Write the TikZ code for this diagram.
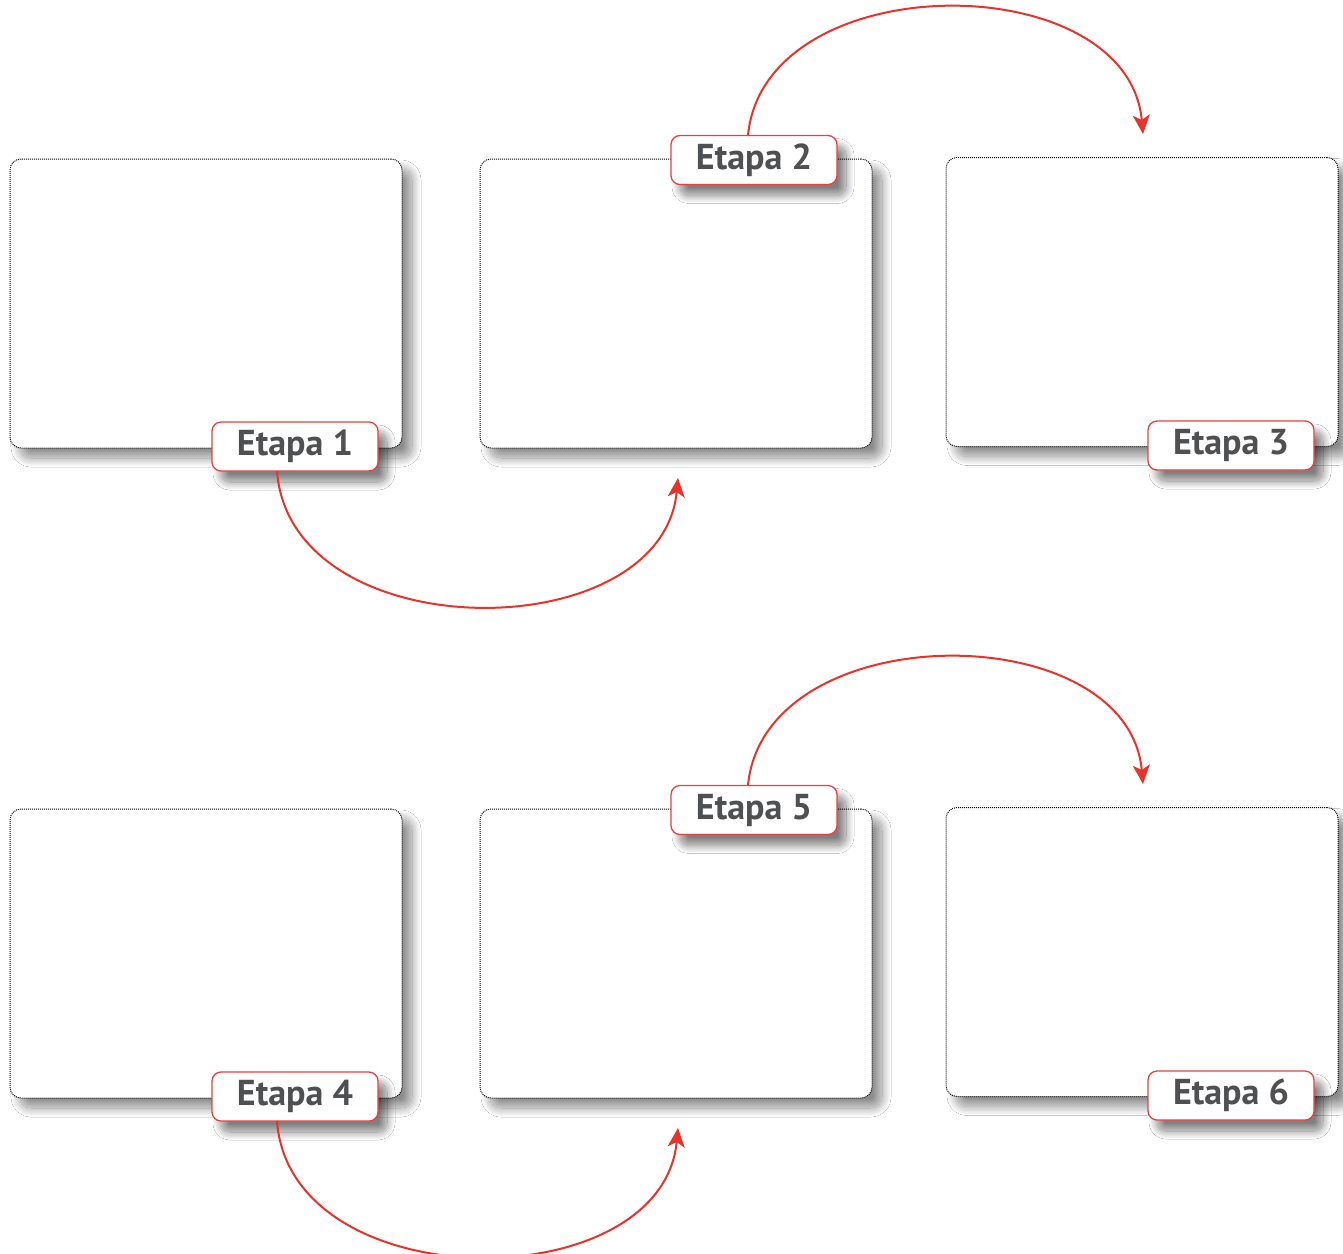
\documentclass[tikz,border=0pt]{standalone}
\usepackage{fontspec}
\setmainfont{PT Sans}
\usetikzlibrary{arrows.meta,shadows.blur}
\definecolor{arrred}{HTML}{E8322A}
\definecolor{lblred}{HTML}{E84040}
\definecolor{txtgray}{HTML}{4F5052}
\tikzset{
  panel/.style={draw=black, line width=1pt, dash pattern=on 1pt off 1pt,
    rounded corners=11pt, fill=white, minimum width=392pt, minimum height=289pt,
    blur shadow={shadow xshift=10pt, shadow yshift=-10pt, shadow blur steps=25, shadow blur radius=9pt, shadow opacity=45}},
  stage/.style={draw=lblred, line width=1.3pt, rounded corners=9pt, fill=white,
    minimum width=166pt, minimum height=49pt, inner sep=0pt,
    text=txtgray, font=\bfseries\fontsize{36}{36}\selectfont,
    blur shadow={shadow xshift=9pt, shadow yshift=-11pt, shadow blur steps=20, shadow blur radius=8pt, shadow opacity=50}},
  link/.style={draw=arrred, line width=2pt, -{Stealth[length=19pt,width=17pt,inset=5pt]}}
}
\begin{document}
\begin{tikzpicture}[x=1pt,y=-1pt]
\useasboundingbox (0,0) rectangle (1343,1253);
\fill[white] (0,0) rectangle (1343,1253);
% row 1
\node[panel] (b1) at (206,303.5) {};
\node[panel] (b2) at (676,303.5) {};
\node[panel] (b3) at (1142,302) {};
% row 2
\node[panel] (b4) at (206,953.5) {};
\node[panel] (b5) at (676,953.5) {};
\node[panel] (b6) at (1142,952) {};
% labels
\node[stage] (s1) at (295,446.5) {Etapa 1};
\node[stage] (s2) at (754,160) {Etapa 2};
\node[stage] (s3) at (1231,445.5) {Etapa 3};
\node[stage] (s4) at (295,1096.5) {Etapa 4};
\node[stage] (s5) at (754,810) {Etapa 5};
\node[stage] (s6) at (1231,1095.5) {Etapa 6};
% arrow endpoints
\coordinate (t1) at (678,478);
\coordinate (t2) at (1143,134);
\coordinate (t4) at (678,1128);
\coordinate (t5) at (1143,784);
\coordinate (a1) at (277,471);
\coordinate (a2) at (748,135);
\coordinate (a4) at (277,1121);
\coordinate (a5) at (748,785);
% arrows
\draw[link] (a1) .. controls (290,650) and (662,650) .. (t1);
\draw[link] (a2) .. controls (765,-35) and (1128,-35) .. (t2);
\draw[link] (a4) .. controls (290,1300) and (662,1300) .. (t4);
\draw[link] (a5) .. controls (765,615) and (1128,615) .. (t5);
\end{tikzpicture}
\end{document}
